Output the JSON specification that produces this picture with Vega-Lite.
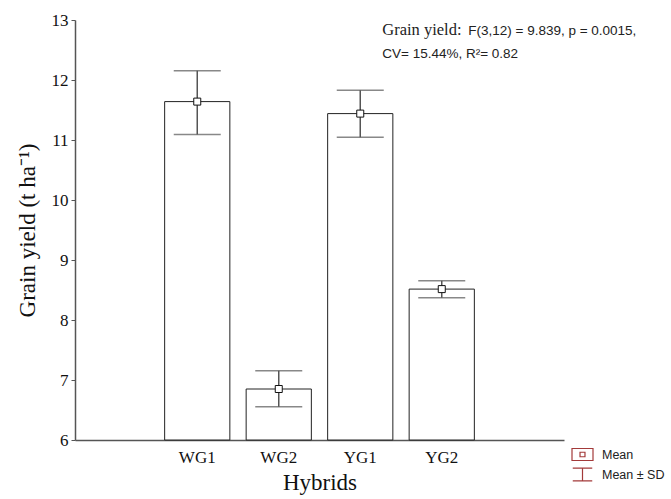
{
  "$schema": "https://vega.github.io/schema/vega-lite/v6.json",
  "width": 489,
  "height": 420,
  "autosize": {"type": "none"},
  "padding": {"left": 75, "top": 20, "right": 107, "bottom": 59},
  "background": "white",
  "config": {"view": {"stroke": null}, "axis": {"grid": false}},
  "data": {"values": [
    {"hybrid": "WG1", "mean": 11.64, "lo": 11.09, "hi": 12.155},
    {"hybrid": "WG2", "mean": 6.85, "lo": 6.555, "hi": 7.155},
    {"hybrid": "YG1", "mean": 11.44, "lo": 11.045, "hi": 11.83},
    {"hybrid": "YG2", "mean": 8.515, "lo": 8.37, "hi": 8.655}
  ]},
  "layer": [
    {
      "mark": {"type": "bar", "fill": "white", "stroke": "#222", "strokeWidth": 1},
      "encoding": {
        "x": {"field": "hybrid", "type": "nominal",
          "scale": {"domain": [" ", "WG1", "WG2", "YG1", "YG2", "  "], "paddingInner": 0.2, "paddingOuter": 0.1},
          "axis": {"title": "Hybrids", "labelAngle": 0, "ticks": false, "domainColor": "#555", "domainWidth": 1.5,
            "labelFont": "Liberation Serif", "labelFontSize": 17, "labelColor": "#111", "labelPadding": 9,
            "titleFont": "Liberation Serif", "titleFontSize": 23, "titleFontWeight": "normal", "titleColor": "#111", "titlePadding": 6}},
        "y": {"field": "mean", "type": "quantitative",
          "scale": {"domain": [6, 13], "zero": false, "nice": false},
          "axis": {"title": "Grain yield (t ha⁻¹)", "values": [6, 7, 8, 9, 10, 11, 12, 13], "format": "d", "tickSize": 4, "tickColor": "#555",
            "domainColor": "#555", "domainWidth": 1.5, "labelFont": "Liberation Serif", "labelFontSize": 17, "labelColor": "#111",
            "labelPadding": 3, "titleFont": "Liberation Serif", "titleFontSize": 23, "titleFontWeight": "normal", "titleColor": "#111", "titlePadding": 12}},
        "y2": {"datum": 6}
      }
    },
    {
      "mark": {"type": "rule", "color": "#555", "strokeWidth": 1.5},
      "encoding": {
        "x": {"field": "hybrid", "type": "nominal"},
        "y": {"field": "lo", "type": "quantitative"},
        "y2": {"field": "hi"}
      }
    },
    {
      "mark": {"type": "tick", "orient": "horizontal", "color": "#555", "size": 47, "thickness": 1.5},
      "encoding": {
        "x": {"field": "hybrid", "type": "nominal"},
        "y": {"field": "hi", "type": "quantitative"}
      }
    },
    {
      "mark": {"type": "tick", "orient": "horizontal", "color": "#555", "size": 47, "thickness": 1.5},
      "encoding": {
        "x": {"field": "hybrid", "type": "nominal"},
        "y": {"field": "lo", "type": "quantitative"}
      }
    },
    {
      "mark": {"type": "point", "shape": "square", "size": 49, "fill": "white", "stroke": "#111", "strokeWidth": 1, "opacity": 1, "filled": false},
      "encoding": {
        "x": {"field": "hybrid", "type": "nominal"},
        "y": {"field": "mean", "type": "quantitative"}
      }
    },
    {
      "mark": {"type": "point", "size": 49, "fill": "white", "stroke": "#a33a3a", "strokeWidth": 1.2, "opacity": 0, "filled": false},
      "encoding": {
        "x": {"field": "hybrid", "type": "nominal"},
        "y": {"field": "mean", "type": "quantitative"},
        "shape": {"datum": "Mean", "scale": {"domain": ["Mean", "Mean ± SD"], "range": ["M-1.4,-0.8H1.4V0.8H-1.4Z M-0.33,-0.3H0.33V0.3H-0.33Z", "M-1.3,-0.85H1.3M0,-0.85V0.85M-1.3,0.85H1.3"]},
          "legend": {"title": null, "orient": "none", "legendX": 499, "legendY": 426, "padding": 0,
            "symbolSize": 225, "rowPadding": 2, "labelOffset": 11, "labelFont": "Liberation Sans", "labelFontSize": 12.5, "labelColor": "#222",
            "symbolStrokeWidth": 1.2, "symbolOpacity": 1}}
      }
    },
    {
      "data": {"values": [{}]},
      "mark": {"type": "text", "text": "Grain yield:", "font": "Liberation Serif", "fontSize": 16.5, "align": "left", "baseline": "alphabetic", "dx": 22, "color": "#222"},
      "encoding": {"x": {"datum": "YG1", "type": "nominal"}, "y": {"datum": 12.75, "type": "quantitative"}}
    },
    {
      "data": {"values": [{}]},
      "mark": {"type": "text", "text": "F(3,12) = 9.839, p = 0.0015,", "font": "Liberation Sans", "fontSize": 13.5, "align": "left", "baseline": "alphabetic", "dx": 108, "color": "#222"},
      "encoding": {"x": {"datum": "YG1", "type": "nominal"}, "y": {"datum": 12.75, "type": "quantitative"}}
    },
    {
      "data": {"values": [{}]},
      "mark": {"type": "text", "text": "CV= 15.44%, R²= 0.82", "font": "Liberation Sans", "fontSize": 13.5, "align": "left", "baseline": "alphabetic", "dx": 22, "color": "#222"},
      "encoding": {"x": {"datum": "YG1", "type": "nominal"}, "y": {"datum": 12.37, "type": "quantitative"}}
    }
  ]
}
